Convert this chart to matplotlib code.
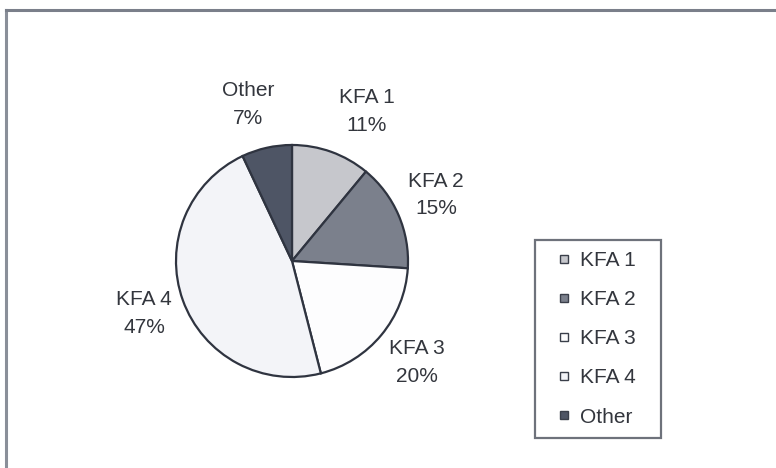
import numpy as np
import matplotlib
matplotlib.use("Agg")
import matplotlib.pyplot as plt
from matplotlib.lines import Line2D

plt.rcParams['font.family'] = ['Liberation Sans', 'DejaVu Sans']

# 数据
labels = ['KFA 1', 'KFA 2', 'KFA 3', 'KFA 4', 'Other']
shares = [11, 15, 20, 47, 7]
colors = ['#c6c7cc', '#7b808c', '#fdfdfe', '#f3f4f8', '#4e5565']
edge = '#2f3440'
textColor = '#33363d'
fs = 15

# 标签相对径向位置的微调（像素，x向右，y向上）
labelNudge = [(20, -2), (-4, 2), (1, 1), (4, 2), (-9, -1)]

fig = plt.figure(figsize=(7.76, 4.68), dpi=100, facecolor='white')

# 外框（只有上边和左边）
fig.add_artist(Line2D([6 / 776, 6 / 776], [0, 1 - 10 / 468], color='#8a8f99', lw=2.2))
fig.add_artist(Line2D([6 / 776, 1], [1 - 10 / 468, 1 - 10 / 468], color='#7a7f8a', lw=2.2))

# 饼图区域，中心约(292,261)，半径约116像素
cx, cy, r = 292, 261, 116
ax = fig.add_axes([(cx - r) / 776, (468 - cy - r) / 468, 2 * r / 776, 2 * r / 468])
wedges, _ = ax.pie(shares, colors=colors, startangle=90, counterclock=False,
                   wedgeprops=dict(edgecolor=edge, linewidth=1.6))
ax.set_xlim(-1, 1)
ax.set_ylim(-1, 1)
ax.set_aspect('equal')
ax.axis('off')

# 扇形外侧的标签
for w, name, v, nd in zip(wedges, labels, shares, labelNudge):
    ang = np.deg2rad((w.theta1 + w.theta2) / 2.0)
    ax.annotate('%s\n%d%%' % (name, v), xy=(1.39 * np.cos(ang), 1.39 * np.sin(ang)),
                xytext=nd, textcoords='offset pixels',
                ha='center', va='center', fontsize=fs, color=textColor,
                linespacing=1.58, annotation_clip=False)

# 图例
handles = [Line2D([], [], linestyle='none', marker='s', markersize=5.5,
                  markerfacecolor=c, markeredgecolor='#3a3f4a', markeredgewidth=1.0)
           for c in colors]
leg = fig.legend(handles, labels, loc='upper left',
                 bbox_to_anchor=(535 / 776, (468 - 438) / 468, 126 / 776, 198 / 468),
                 mode='expand', numpoints=1,
                 frameon=True, fancybox=False, fontsize=fs,
                 handlelength=1.79, handletextpad=-0.15,
                 labelspacing=0.97, borderpad=0.52, borderaxespad=0,
                 labelcolor=textColor)
leg.get_frame().set_edgecolor('#4a4f5a')
leg.get_frame().set_linewidth(1.6)

fig.savefig('out.png', dpi=100, facecolor='white')
